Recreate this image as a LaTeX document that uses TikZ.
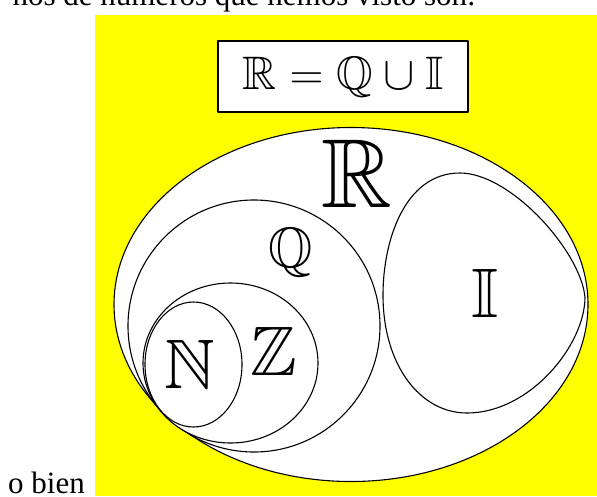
\documentclass[tikz,border=0pt]{standalone}
\usepackage{fix-cm}
\usepackage{amssymb}
\usepackage[no-math]{fontspec}
\setmainfont{Liberation Serif}
\usetikzlibrary{positioning}
\definecolor{bgyellow}{HTML}{FFFF00}

\begin{document}
\begin{tikzpicture}[
    x=1pt,y=-1pt,
    line cap=round,
    line join=round,
    setline/.style={draw=black, fill=white, line width=1.1pt},
    setname/.style={inner sep=0pt, anchor=base},
    formulabox/.style={draw=black, fill=white, line width=1.1pt, inner sep=0pt, minimum width=250, minimum height=71},
    pagetext/.style={inner sep=0pt, font=\fontsize{31}{34}\selectfont}
]
\useasboundingbox (0,0) rectangle (597,496);
\clip (0,0) rectangle (597,496);

% Page text
\node[pagetext, anchor=base east] (headline) at (476,5) {nos de números que hemos visto son:};
\node[pagetext, anchor=base west] (obien) at (8,493) {o bien};

% Yellow picture
\fill[bgyellow] (95,15) rectangle (597,496);

% Formula box
\node[formulabox] (formula) at (343,76.5) {};
\node[setname, font=\fontsize{47}{52}\selectfont] (union) at (343,89) {$\mathbb{R}=\mathbb{Q}\cup\mathbb{I}$};

% Sets
\draw[setline] (351,304.5) ellipse [x radius=237, y radius=177];
\draw[setline] (254,326) circle [radius=126];
\draw[setline] (230.5,363) ellipse [x radius=87.5, y radius=80];
\draw[setline] (193.5,364.5) ellipse [x radius=48.5, y radius=62.5];
\draw[setline] (585,297) .. controls (580,250) and (510,173) .. (460,173)
    .. controls (405,173) and (383,240) .. (383,295)
    .. controls (383,365) and (420,413) .. (467,413)
    .. controls (530,413) and (585,345) .. (585,297) -- cycle;

% Set names
\node[setname, font=\fontsize{98}{100}\selectfont] (reals) at (357,207) {$\mathbb{R}$};
\node[setname, font=\fontsize{57}{60}\selectfont] (rationals) at (291,267) {$\mathbb{Q}$};
\node[setname, font=\fontsize{70}{72}\selectfont] (integers) at (274,375) {$\mathbb{Z}$};
\node[setname, font=\fontsize{70}{72}\selectfont] (naturals) at (190,388) {$\mathbb{N}$};
\node[setname, font=\fontsize{70}{72}\selectfont] (irrationals) at (485,317) {$\mathbb{I}$};

\end{tikzpicture}
\end{document}
